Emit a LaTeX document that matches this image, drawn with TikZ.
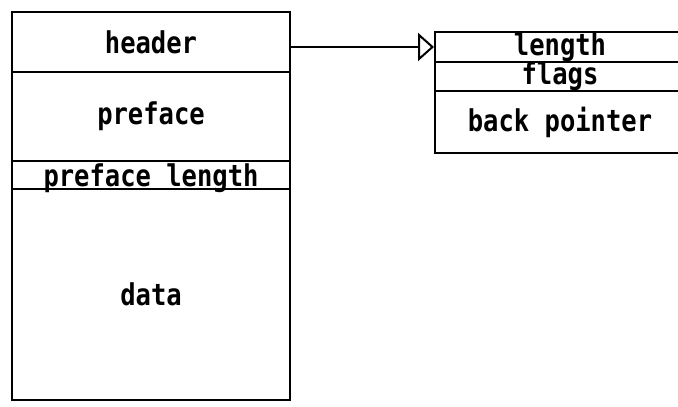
\documentclass[tikz,border=0pt]{standalone}
\usepackage{fontspec}
\newfontfamily\cellfont[FakeStretch=0.85]{DejaVu Sans Mono}
\usetikzlibrary{arrows.meta}

\begin{document}
\begin{tikzpicture}[
  x=0.5pt, y=-0.5pt,
  every node/.style={rectangle, draw, line width=1pt, inner sep=0pt,
    font=\cellfont\bfseries\fontsize{15}{18}\selectfont},
  leftcell/.style={minimum width=139pt},
  rightcell/.style={minimum width=125pt}
]
  \clip (0,0) rectangle (678,406);

  % packet
  \node[leftcell, minimum height=30pt] (hdr) at (151, 42) {header};
  \node[leftcell, minimum height=44.5pt] (pref) at (151, 116.5) {preface};
  \node[leftcell, minimum height=14pt, text depth=0pt] (preflen) at (151, 175) {preface length};
  \node[leftcell, minimum height=105.5pt] (data) at (151, 294.5) {data};

  % header block
  \node[rightcell, minimum height=15pt] (len) at (560, 47) {length};
  \node[rightcell, minimum height=14.5pt, text height=11pt, text depth=3pt] (flg) at (560, 76.5) {flags};
  \node[rightcell, minimum height=31pt] (bptr) at (560, 122) {back pointer};

  \draw[line width=1pt, -{Triangle[open, length=8pt, width=14pt]}] (hdr.east |- len.west) -- (len.west);
\end{tikzpicture}
\end{document}
